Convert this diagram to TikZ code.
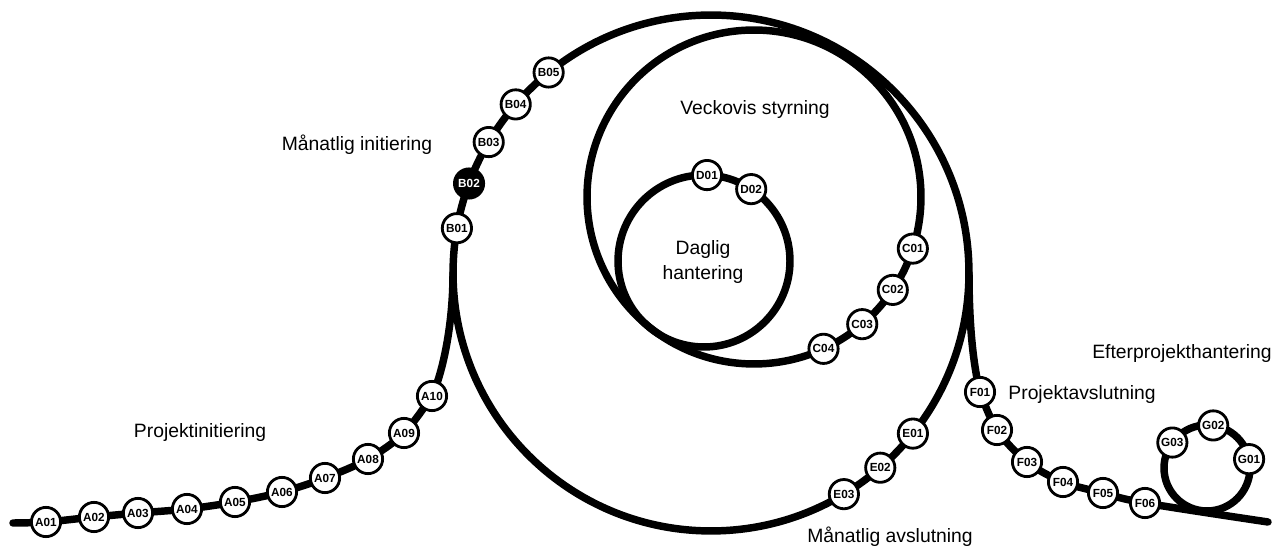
\documentclass[tikz,border=0pt]{standalone}
\usepackage{fontspec}
\setmainfont{Liberation Sans}
\usetikzlibrary{calc,backgrounds}
\begin{document}
\begin{tikzpicture}[x=0.02cm, y=-0.02cm,
  track/.style={line width=4.25pt, line cap=round, line join=round},
  station/.style={circle, draw, line width=1.6pt, fill=white, minimum size=0.585cm, inner sep=0pt, font=\fontsize{6.7}{7}\selectfont\bfseries},
  darkstation/.style={station, fill=black, text=white},
  lbl/.style={font=\fontsize{11}{14.2}\selectfont, align=center}]
\useasboundingbox (0,0) rectangle (1278,546);
% centres of the loops and free ends
\coordinate (M) at (711,273);
\coordinate (W) at (754,197);
\coordinate (Dc) at (704,261);
\coordinate (Gc) at (1207,468);
\coordinate (a0) at (13,523);
\coordinate (j1) at (453,273);
\coordinate (j2) at (969,273);
\coordinate (fend) at (1268,522);
% A stations
\node[station] (A01) at (46,522) {A01};
\node[station] (A02) at (94,517) {A02};
\node[station] (A03) at (138,513) {A03};
\node[station] (A04) at (187,509) {A04};
\node[station] (A05) at (235,502) {A05};
\node[station] (A06) at (282,492) {A06};
\node[station] (A07) at (325,478) {A07};
\node[station] (A08) at (368,459) {A08};
\node[station] (A09) at (404,433) {A09};
\node[station] (A10) at (432,396) {A10};
% B stations
\node[station] (B01) at ($(M)+(190:258)$) {B01};
\node[darkstation] (B02) at ($(M)+(200.3:258)$) {B02};
\node[station] (B03) at ($(M)+(210.5:258)$) {B03};
\node[station] (B04) at ($(M)+(220.8:258)$) {B04};
\node[station] (B05) at ($(M)+(231:258)$) {B05};
% C stations
\node[station] (C01) at ($(W)+(18:167)$) {C01};
\node[station] (C02) at ($(W)+(33.8:167)$) {C02};
\node[station] (C03) at ($(W)+(49.6:167)$) {C03};
\node[station] (C04) at ($(W)+(65.4:167)$) {C04};
% D stations
\node[station] (D01) at ($(Dc)+(272:86)$) {D01};
\node[station] (D02) at ($(Dc)+(303.3:86)$) {D02};
% E stations
\node[station] (E01) at ($(M)+(38.5:258)$) {E01};
\node[station] (E02) at ($(M)+(49:258)$) {E02};
\node[station] (E03) at ($(M)+(59:258)$) {E03};
% F stations
\node[station] (F01) at (980,392) {F01};
\node[station] (F02) at (997,430) {F02};
\node[station] (F03) at (1027,462) {F03};
\node[station] (F04) at (1063,482) {F04};
\node[station] (F05) at (1103,493) {F05};
\node[station] (F06) at (1145,503) {F06};
% G stations
\node[station] (G01) at ($(Gc)+(348.1:43)$) {G01};
\node[station] (G02) at ($(Gc)+(278.3:43)$) {G02};
\node[station] (G03) at ($(Gc)+(216.3:43)$) {G03};
% labels
\node[lbl, anchor=base] (lProjInit) at (200,438) {Projektinitiering};
\node[lbl, anchor=base] (lManInit) at (357,151) {Månatlig initiering};
\node[lbl, anchor=base] (lVecka) at (755,115) {Veckovis styrning};
\node[lbl] (lDaglig) at (703,262) {Daglig\\hantering};
\node[lbl, anchor=base] (lManAvsl) at (890,543) {Månatlig avslutning};
\node[lbl, anchor=base] (lProjAvsl) at (1082,400) {Projektavslutning};
\node[lbl, anchor=base] (lEfter) at (1182,359) {Efterprojekthantering};
% tracks behind the stations
\begin{pgfonlayer}{background}
\fill[white] (0,0) rectangle (1278,546);
\draw[track] (M) circle[radius=5.16cm];
\draw[track] (W) circle[radius=3.34cm];
\draw[track] (Dc) circle[radius=1.72cm];
\draw[track] (Gc) circle[radius=0.86cm];
\draw[track] plot[smooth, tension=0.55] coordinates {(a0) (A01.center) (A02.center) (A03.center) (A04.center) (A05.center) (A06.center) (A07.center) (A08.center) (A09.center) (A10.center)} .. controls (441,377) and (453,330) .. (j1);
\draw[track] (j2) .. controls (969,330) and (974,368) .. (F01.center);
\draw[track] plot[smooth, tension=0.55] coordinates {(F01.center) (F02.center) (F03.center) (F04.center) (F05.center) (F06.center) (fend)};
\end{pgfonlayer}
\end{tikzpicture}
\end{document}
